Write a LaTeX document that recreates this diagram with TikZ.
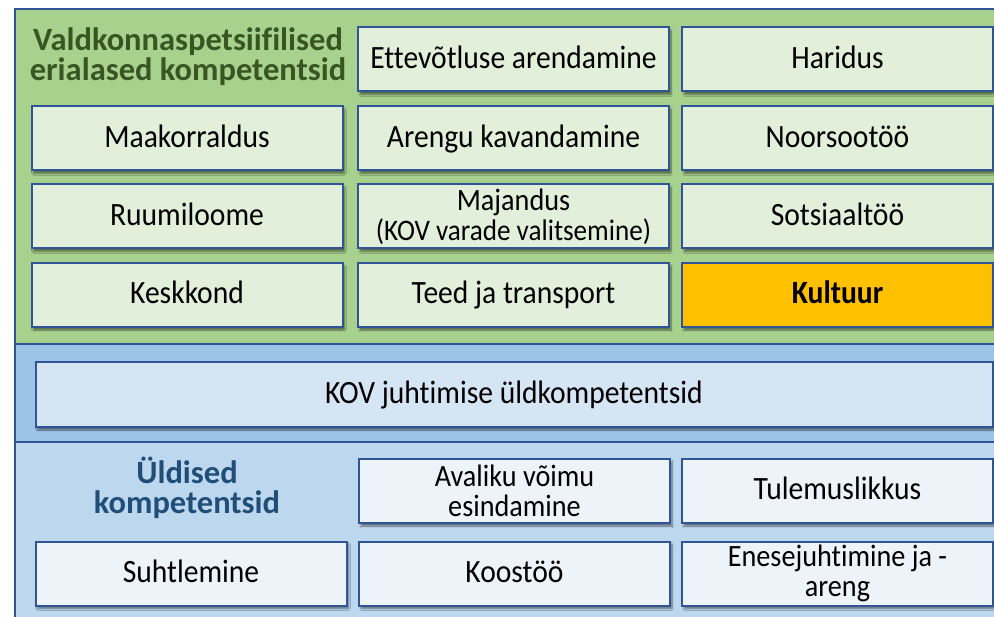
\documentclass[tikz,border=0pt]{standalone}
\usepackage{fontspec}
\setmainfont{Carlito}[Ligatures=NoCommon]
\newfontfamily\boxfont{Carlito}[FakeStretch=0.91, Ligatures=NoCommon]
\usetikzlibrary{shadows.blur}
\definecolor{rim}{HTML}{2F5597}
\definecolor{greenbg}{HTML}{A9D18E}
\definecolor{greenbox}{HTML}{E2EFDA}
\definecolor{midbg}{HTML}{9DC3E6}
\definecolor{midbox}{HTML}{D5E5F4}
\definecolor{lowbg}{HTML}{BDD7EE}
\definecolor{lowbox}{HTML}{EEF3FA}
\definecolor{gold}{HTML}{FFC000}
\definecolor{darkgreen}{HTML}{375623}
\definecolor{darkblue}{HTML}{1F4E79}
\tikzset{
    panel/.style={draw=rim, line width=2pt},
    card/.style={draw=rim, line width=2pt, align=center, inner sep=0pt,
        minimum width=311pt, minimum height=64pt,
        text height=24pt, text depth=6pt,
        font=\boxfont\fontsize{32.5}{28}\selectfont,
        blur shadow={shadow xshift=2pt, shadow yshift=-3pt, shadow blur steps=6, shadow opacity=50}},
    twolines/.style={text height=, text depth=, font=\boxfont\fontsize{31}{30}\selectfont},
    greencard/.style={card, fill=greenbox},
    lowcard/.style={card, fill=lowbox},
    heading/.style={align=center, font=\fontsize{32.5}{30}\selectfont\bfseries}
}
\begin{document}
\begin{tikzpicture}[x=1pt, y=-1pt]
        \useasboundingbox (0,0) rectangle (994,617);
        \clip (0,0) rectangle (994,617);
        % three bands
        \draw[panel, fill=greenbg] (15,9) rectangle (1010,344);
        \draw[panel, fill=midbg] (15,344) rectangle (1010,442);
        \draw[panel, fill=lowbg] (15,442) rectangle (1010,640);

        % field specific competences
        \node[heading, text=darkgreen] (fieldhead) at (188,57) {Valdkonnaspetsiifilised\\erialased kompetentsid};
        \node[greencard] (business) at (513.5,59.5) {Ettevõtluse arendamine};
        \node[greencard] (education) at (837.5,59.5) {Haridus};
        \node[greencard] (landuse) at (187,138.5) {Maakorraldus};
        \node[greencard] (planning) at (513.5,138.5) {Arengu kavandamine};
        \node[greencard] (youth) at (837.5,138.5) {Noorsootöö};
        \node[greencard] (spatial) at (187,216.5) {Ruumiloome};
        \node[greencard, twolines] (economy) at (513.5,216.5) {Majandus\\{\fontsize{29.8}{28}\selectfont(KOV varade valitsemine)}};
        \node[greencard] (social) at (837.5,216.5) {Sotsiaaltöö};
        \node[greencard] (environment) at (187,295) {Keskkond};
        \node[greencard] (roads) at (513.5,295) {Teed ja transport};
        \node[card, fill=gold, font=\boxfont\fontsize{32.5}{28}\selectfont\bfseries] (culture) at (837.5,295) {Kultuur};

        % management
        \node[card, fill=midbox, minimum width=957pt, minimum height=65pt] (management) at (514,394.5) {KOV juhtimise üldkompetentsid};

        % general competences
        \node[heading, text=darkblue] (generalhead) at (187,488) {Üldised\\kompetentsid};
        \node[lowcard, twolines] (authority) at (514.5,491) {Avaliku võimu\\esindamine};
        \node[lowcard] (results) at (837.5,491) {Tulemuslikkus};
        \node[lowcard] (communication) at (191,573.5) {Suhtlemine};
        \node[lowcard] (cooperation) at (514.5,573.5) {Koostöö};
        \node[lowcard, twolines] (selfmanagement) at (837.5,573.5) {Enesejuhtimine ja -\\areng};
    \end{tikzpicture}
\end{document}
